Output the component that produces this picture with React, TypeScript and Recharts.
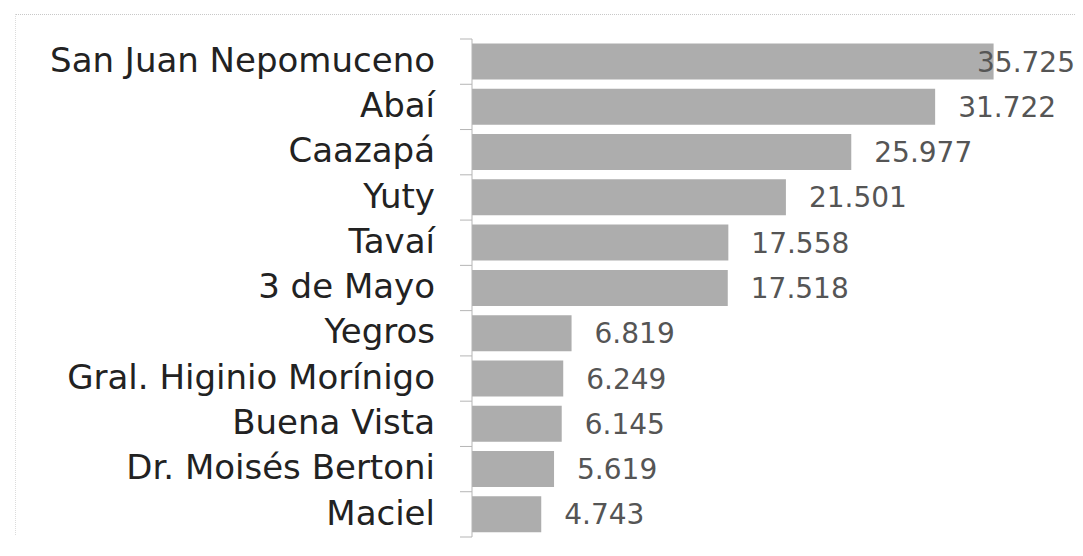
import React from "react";
import { BarChart, Bar, XAxis, YAxis, LabelList } from "recharts";

const categories = [
  "San Juan Nepomuceno",
  "Abaí",
  "Caazapá",
  "Yuty",
  "Tavaí",
  "3 de Mayo",
  "Yegros",
  "Gral. Higinio Morínigo",
  "Buena Vista",
  "Dr. Moisés Bertoni",
  "Maciel",
];
const values = [35.725, 31.722, 25.977, 21.501, 17.558, 17.518, 6.819, 6.249, 6.145, 5.619, 4.743];
const valueLabels = ["35.725", "31.722", "25.977", "21.501", "17.558", "17.518", "6.819", "6.249", "6.145", "5.619", "4.743"];

const data = categories.map((name, i) => ({ name, value: values[i], label: valueLabels[i] }));

const W = 1075;
const H = 540;
const M = { top: 31, right: 27, bottom: 11, left: 0 };
const BAND = (H - M.top - M.bottom) / categories.length;
const FONT = "'DejaVu Sans', sans-serif";

const CatTick = (props: any) => {
  const { x, y, payload, index } = props;
  const ax = x + 37;
  const last = index === categories.length - 1;
  return (
    <g>
      <line x1={ax - 12} x2={ax} y1={y - BAND / 2} y2={y - BAND / 2} stroke="#b5b5b5" strokeWidth={1} />
      {last && <line x1={ax - 12} x2={ax} y1={y + BAND / 2} y2={y + BAND / 2} stroke="#b5b5b5" strokeWidth={1} />}
      <text x={x} y={y} dy="0.3em" textAnchor="end" fill="#222" fontSize={34} fontFamily={FONT}>
        {payload.value}
      </text>
    </g>
  );
};

const ValueLabel = (props: any) => {
  const { x, y, width, height, value } = props;
  const s = String(value);
  const est = s.replace(".", "").length * 17.8 + 8.9;
  let tx = x + width + 23;
  let anchor: "start" | "end" = "start";
  const limit = W - 8;
  if (tx + est > limit) {
    tx = limit;
    anchor = "end";
  }
  return (
    <text x={tx} y={y + height / 2} dy="0.36em" textAnchor={anchor} fill="#555" fontSize={28} fontFamily={FONT}>
      {s}
    </text>
  );
};

export default function App() {
  return (
    <div style={{ position: "relative", width: W, height: H }}>
      <div
        style={{
          position: "absolute",
          left: 7,
          top: 6,
          right: -8,
          height: 520,
          borderTop: "1px dotted #c8c8c8",
          borderLeft: "1px dotted #dcdcdc",
        }}
      />
      <BarChart width={W} height={H} data={data} layout="vertical" margin={M} barCategoryGap="10%">
        <XAxis type="number" domain={[0, 40]} hide />
        <YAxis
          type="category"
          dataKey="name"
          width={464}
          tickSize={12}
          tickMargin={25}
          tickLine={false}
          axisLine={{ stroke: "#b5b5b5", strokeWidth: 1 }}
          tick={<CatTick />}
          interval={0}
        />
        <Bar dataKey="value" fill="#adadad" isAnimationActive={false}>
          <LabelList dataKey="label" content={<ValueLabel />} />
        </Bar>
      </BarChart>
    </div>
  );
}
